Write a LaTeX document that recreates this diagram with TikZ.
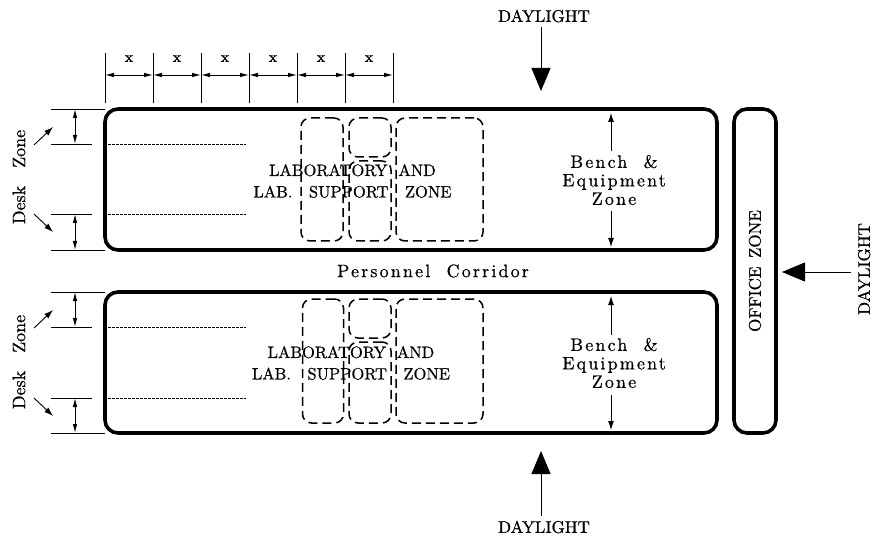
\documentclass[tikz,border=0pt]{standalone}
\usepackage{fontspec}
\setmainfont{lmroman10-regular}[Extension=.otf,BoldFont=lmroman10-bold]
\usepackage{tikz}
\usetikzlibrary{arrows.meta,positioning,calc}

\begin{document}
\begin{tikzpicture}[x=1pt,y=-1pt,node distance=17pt,
   zonebx/.style={draw,line width=3.6pt,rounded corners=13pt,inner sep=0pt,outer sep=0pt},
   dashbx/.style={draw,line width=1.5pt,dash pattern=on 9pt off 5pt,rounded corners=9pt,inner sep=0pt,outer sep=0pt},
   lbl/.style={inner sep=0pt,align=center,font=\fontsize{17}{19}\selectfont\addfontfeature{FakeBold=0.6}},
   desklbl/.style={inner sep=0pt,align=center,font=\fontsize{18}{19}\selectfont\addfontfeature{FakeBold=0.6}},
   widelbl/.style={inner sep=0pt,align=center,font=\fontsize{18}{18.5}\selectfont\addfontfeature{LetterSpace=12,FakeBold=0.6}},
   lablbl/.style={inner sep=0pt,align=center,font=\fontsize{16.5}{21.5}\selectfont\addfontfeature{FakeBold=0.6}},
   sizelbl/.style={inner sep=0pt,font=\fontsize{15}{17}\selectfont\addfontfeature{FakeBold=1.5}},
   dim/.style={line width=0.9pt,{Latex[length=9pt,width=4.5pt]}-{Latex[length=9pt,width=4.5pt]}},
   tick/.style={line width=0.9pt},
   point/.style={line width=0.9pt,-{Latex[length=9pt,width=6pt]}},
   daylt/.style={line width=0.9pt,-{Triangle[length=23pt,width=19pt]}},
   dots/.style={line width=0.8pt,dash pattern=on 2.5pt off 1.5pt}]
  \useasboundingbox (0,0) rectangle (881,540);

  % zones
  \node[zonebx,minimum width=612pt,minimum height=141pt] (lab1) at (411,179.5) {};
  \node[zonebx,minimum width=612pt,minimum height=141pt,below=42pt of lab1] (lab2) {};
  \node[zonebx,minimum width=42pt,minimum height=324pt,right=17pt of lab1.north east,anchor=north west] (office) {};
  \node[lbl,rotate=90] at (office.center) (officetxt) {OFFICE\hspace{0.5em}ZONE};
  \node[widelbl] (corridor) at (433,271) {Personnel\ \ Corridor};

  % support blocks, upper
  \node[dashbx,minimum width=42pt,minimum height=123pt] (sup1a) at (322,179.5) {};
  \node[dashbx,minimum width=42pt,minimum height=39pt] (sup1b) at (370,137.5) {};
  \node[dashbx,minimum width=42pt,minimum height=80pt] (sup1c) at (370,201) {};
  \node[dashbx,minimum width=87pt,minimum height=123pt] (sup1d) at (439.5,179.5) {};
  \node[lablbl] (labtxt1) at (352.5,181) {LABORATORY\ \ AND\\LAB.\ \ \ SUPPORT\ \ \ ZONE};

  % support blocks, lower
  \node[dashbx,minimum width=41pt,minimum height=124pt] (sup2a) at (323,361) {};
  \node[dashbx,minimum width=42pt,minimum height=39pt] (sup2b) at (370,318.5) {};
  \node[dashbx,minimum width=42pt,minimum height=81pt] (sup2c) at (370,382.5) {};
  \node[dashbx,minimum width=87pt,minimum height=124pt] (sup2d) at (439.5,361) {};
  \node[lablbl] (labtxt2) at (351,363) {LABORATORY\ \ AND\\LAB.\ \ \ SUPPORT\ \ \ ZONE};

  % module widths
  \coordinate (m0) at (105,75);
  \coordinate[right=48pt of m0] (m1);
  \coordinate[right=48pt of m1] (m2);
  \coordinate[right=48pt of m2] (m3);
  \coordinate[right=48pt of m3] (m4);
  \coordinate[right=48pt of m4] (m5);
  \coordinate[right=48pt of m5] (m6);
  \draw[tick] (m0) ++(0,-22) -- ++(0,50);
  \draw[tick] (m1) ++(0,-22) -- ++(0,50);
  \draw[tick] (m2) ++(0,-22) -- ++(0,50);
  \draw[tick] (m3) ++(0,-22) -- ++(0,50);
  \draw[tick] (m4) ++(0,-22) -- ++(0,50);
  \draw[tick] (m5) ++(0,-22) -- ++(0,50);
  \draw[tick] (m6) ++(0,-22) -- ++(0,50);
  \draw[dim] (m0)--(m1);
  \draw[dim] (m1)--(m2);
  \draw[dim] (m2)--(m3);
  \draw[dim] (m3)--(m4);
  \draw[dim] (m4)--(m5);
  \draw[dim] (m5)--(m6);
  \node[sizelbl,above=13pt of $(m0)!0.5!(m1)$] (x1) {x};
  \node[sizelbl,above=13pt of $(m1)!0.5!(m2)$] (x2) {x};
  \node[sizelbl,above=13pt of $(m2)!0.5!(m3)$] (x3) {x};
  \node[sizelbl,above=13pt of $(m3)!0.5!(m4)$] (x4) {x};
  \node[sizelbl,above=13pt of $(m4)!0.5!(m5)$] (x5) {x};
  \node[sizelbl,above=13pt of $(m5)!0.5!(m6)$] (x6) {x};

  % desk zones, upper
  \coordinate (d1a) at (75,109);
  \coordinate (d1b) at (75,144);
  \coordinate (d1c) at (75,214);
  \coordinate (d1d) at (75,250);
  \draw[tick] (d1a) ++(-24,0) -- (lab1.north west);
  \draw[tick] (d1d) ++(-24,0) -- (lab1.south west);
  \draw[tick] (d1b) ++(-24,0) -- ++(41,0);
  \draw[tick] (d1c) ++(-24,0) -- ++(41,0);
  \draw[dim] (d1a)--(d1b);
  \draw[dim] (d1c)--(d1d);
  \draw[dots] (108,144)--(246,144);
  \draw[dots] (108,214)--(246,214);
  \node[desklbl,rotate=90] (desk1) at (19,177) {Desk\ \ \ Zone};
  \coordinate (p1a) at (53,127);
  \coordinate (p1b) at (53,232);
  \draw[point] (34,145)--(p1a);
  \draw[point] (34,214)--(p1b);

  % desk zones, lower
  \coordinate (d2a) at (75,292);
  \coordinate (d2b) at (75,327);
  \coordinate (d2c) at (75,398);
  \coordinate (d2d) at (75,433);
  \draw[tick] (d2a) ++(-24,0) -- (lab2.north west);
  \draw[tick] (d2d) ++(-24,0) -- (lab2.south west);
  \draw[tick] (d2b) ++(-24,0) -- ++(41,0);
  \draw[tick] (d2c) ++(-24,0) -- ++(41,0);
  \draw[dim] (d2a)--(d2b);
  \draw[dim] (d2c)--(d2d);
  \draw[dots] (108,327)--(246,327);
  \draw[dots] (108,398)--(246,398);
  \node[desklbl,rotate=90] (desk2) at (19,362) {Desk\ \ \ Zone};
  \coordinate (p2a) at (53,310);
  \coordinate (p2b) at (53,416);
  \draw[point] (34,328)--(p2a);
  \draw[point] (34,398)--(p2b);

  % bench zones
  \node[widelbl] (bench1) at (614,180) {Bench\ \ \&\\Equipment\\Zone};
  \node[widelbl] (bench2) at (614,363) {Bench\ \ \&\\Equipment\\Zone};
  \coordinate (b1a) at (611,113);
  \coordinate (b1b) at (611,247);
  \coordinate (b2a) at (611,296);
  \coordinate (b2b) at (611,430);
  \draw[point] (611,151)--(b1a);
  \draw[point] (611,211)--(b1b);
  \draw[point] (611,335)--(b2a);
  \draw[point] (611,395)--(b2b);

  % daylight
  \node[lbl] (daytop) at (544,16) {DAYLIGHT};
  \node[lbl] (daybot) at (544,527) {DAYLIGHT};
  \node[lbl,rotate=90] (dayright) at (864,269) {DAYLIGHT};
  \coordinate (tiptop) at (541,91);
  \coordinate (tipbot) at (541,451);
  \coordinate (tipright) at (782,272);
  \draw[daylt] (541,27)--(tiptop);
  \draw[daylt] (541,516)--(tipbot);
  \draw[daylt] (851,272)--(tipright);
\end{tikzpicture}
\end{document}
